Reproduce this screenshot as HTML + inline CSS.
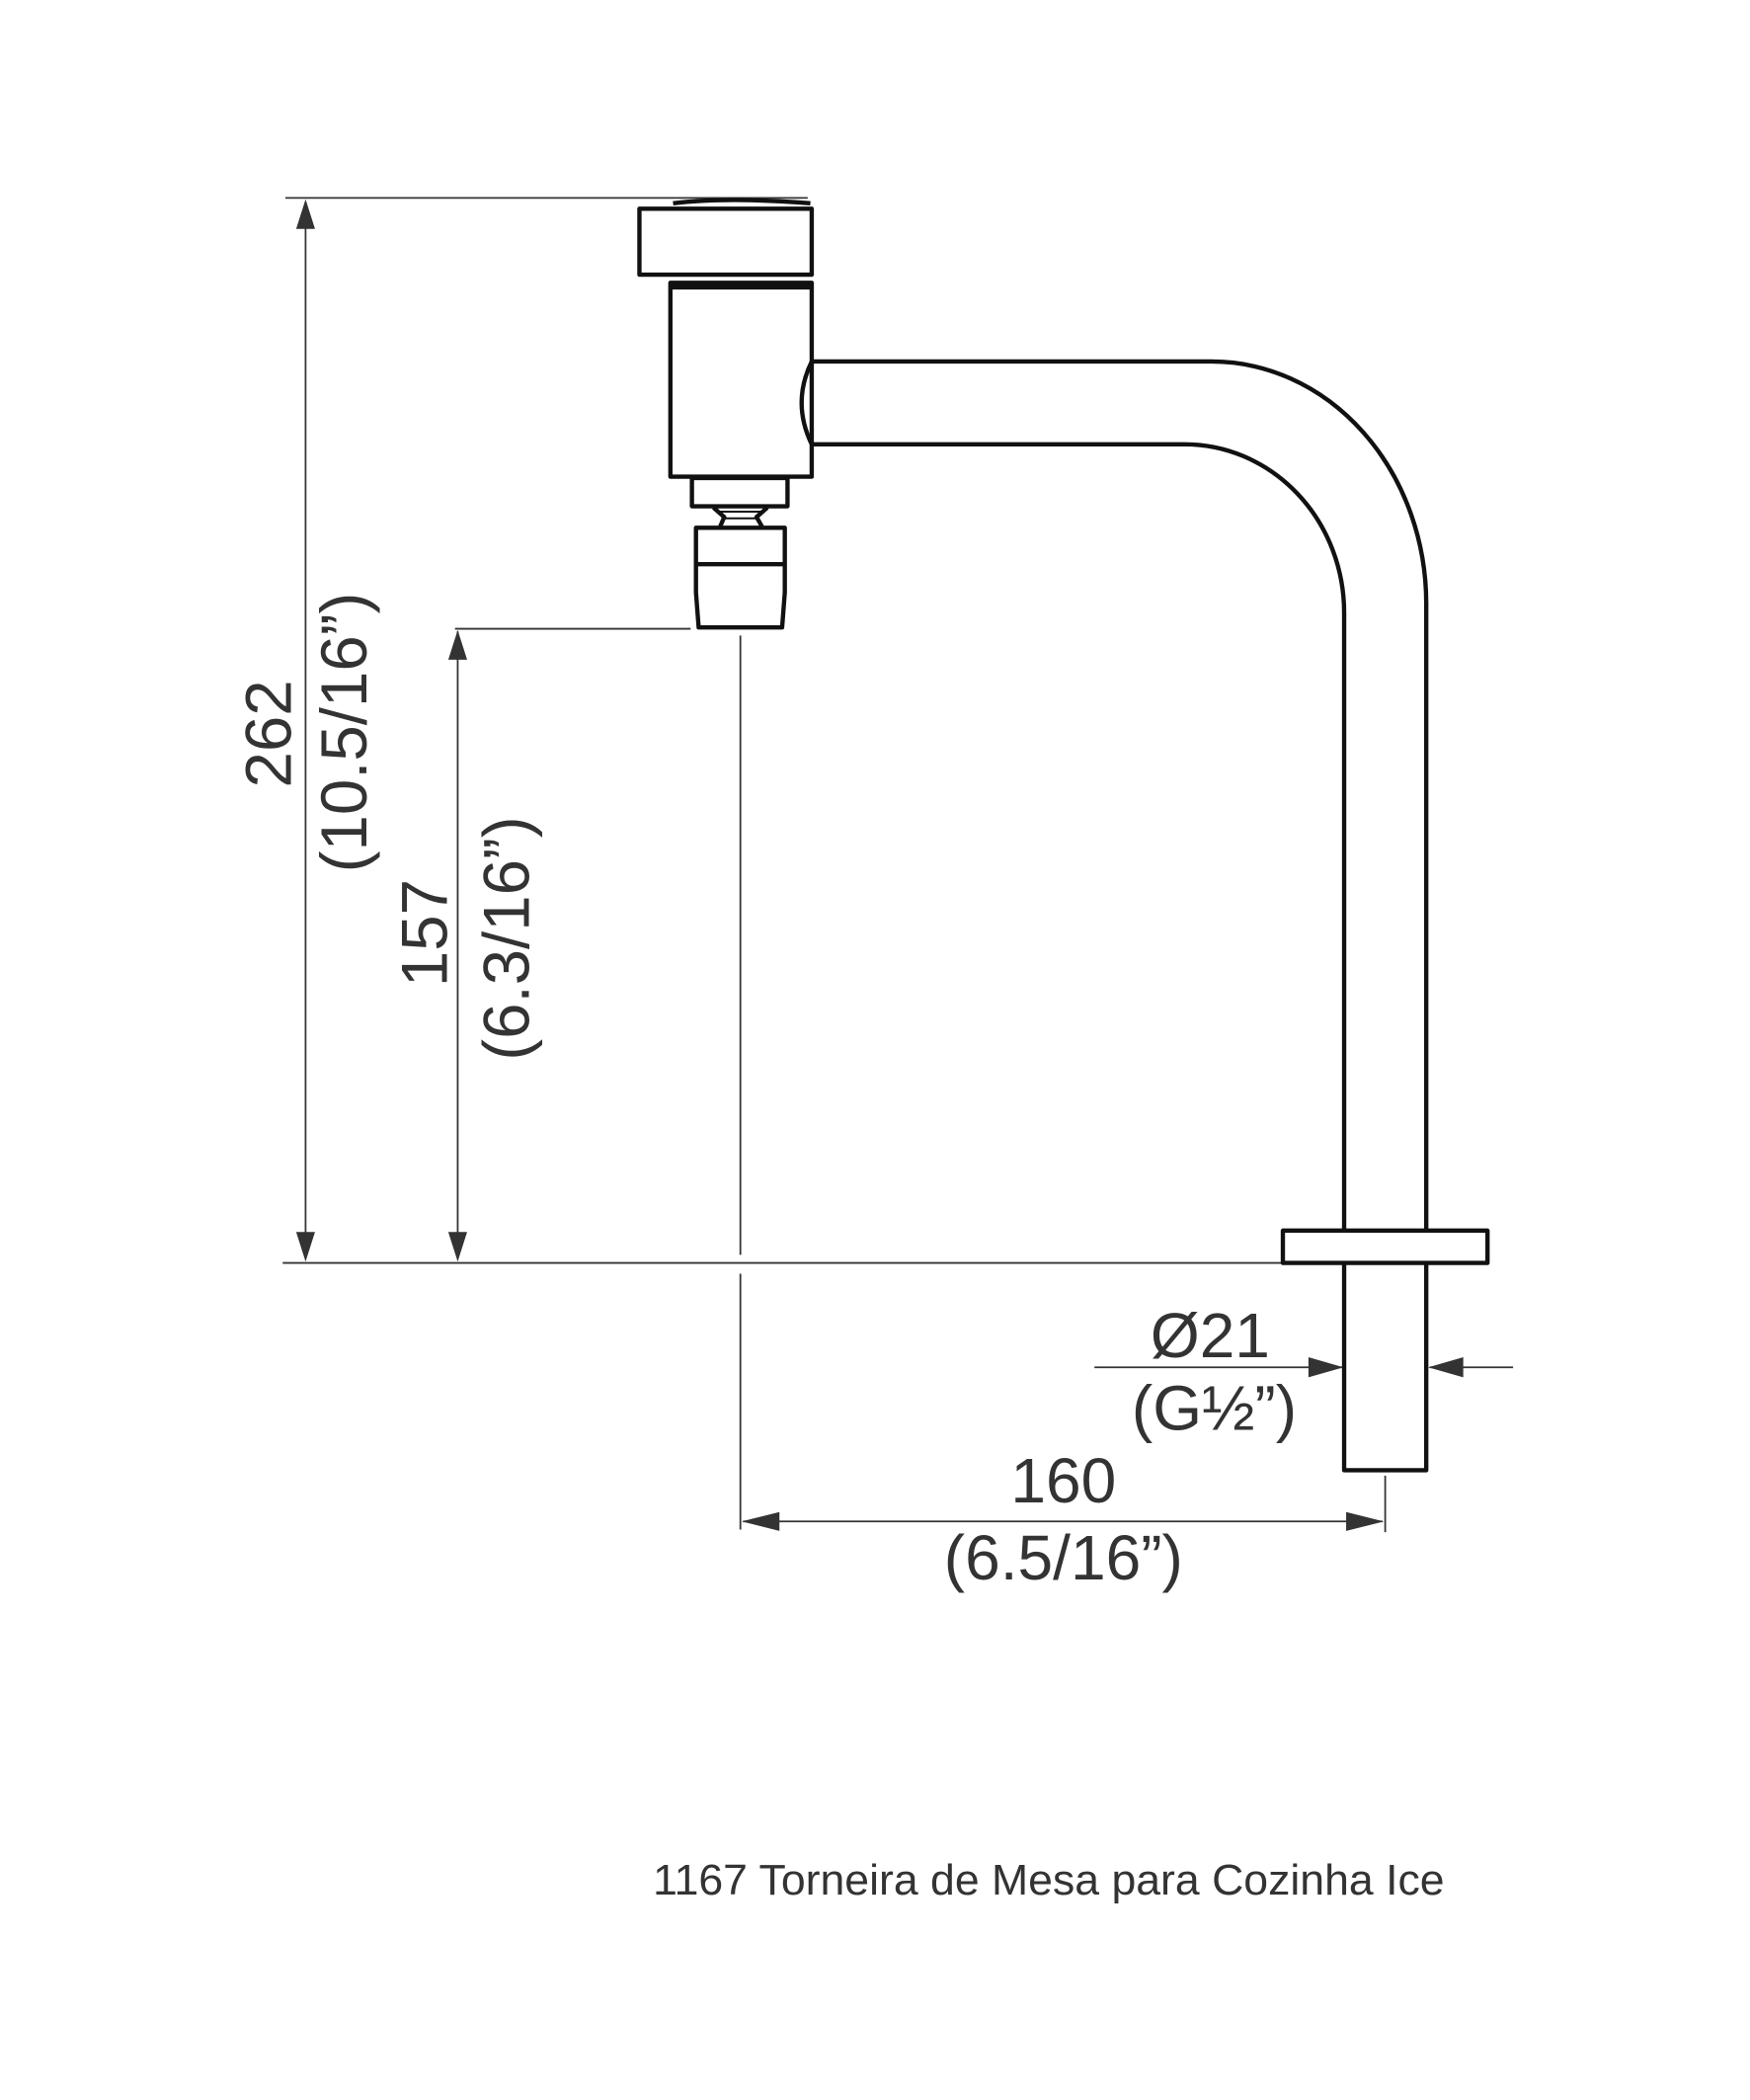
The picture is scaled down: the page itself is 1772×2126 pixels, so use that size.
<!DOCTYPE html>
<html><head><meta charset="utf-8"><style>
html,body{margin:0;padding:0;background:#fff;}
svg{display:block;}
text{font-family:"Liberation Sans",Arial,sans-serif;fill:#333;}
</style></head><body>
<svg width="1772" height="2126" viewBox="0 0 1300 1559.7" preserveAspectRatio="none" xmlns="http://www.w3.org/2000/svg">
<g stroke="#333" stroke-width="1.3" fill="none">
  <line x1="212" y1="147" x2="600" y2="147"/>
  <line x1="210" y1="938" x2="952" y2="938"/>
  <line x1="227" y1="150" x2="227" y2="935"/>
  <line x1="340" y1="469" x2="340" y2="935"/>
  <line x1="338" y1="467" x2="513" y2="467"/>
  <line x1="550" y1="472" x2="550" y2="932"/>
  <line x1="550" y1="946" x2="550" y2="1136"/>
  <line x1="552" y1="1130" x2="1027" y2="1130"/>
  <line x1="1029" y1="1096" x2="1029" y2="1138"/>
  <line x1="813" y1="1015.5" x2="998" y2="1015.5"/>
  <line x1="1062" y1="1015.5" x2="1124" y2="1015.5"/>
</g>
<g fill="#333">
  <polygon points="227,148 220,170 234,170"/>
  <polygon points="227,937 220,915 234,915"/>
  <polygon points="340,468 333,490 347,490"/>
  <polygon points="340,937 333,915 347,915"/>
  <polygon points="551,1130 579,1123 579,1137"/>
  <polygon points="1028,1130 1000,1123 1000,1137"/>
  <polygon points="998,1015.5 972,1008 972,1023"/>
  <polygon points="1061,1015.5 1087,1008 1087,1023"/>
</g>
<g stroke="#111" stroke-width="3.2" fill="none" stroke-linejoin="round">
  <rect x="475" y="155" width="128" height="49"/>
  <path d="M500 151 Q540 146 602 151"/>
  <rect x="498" y="210" width="105" height="144"/>
  <line x1="498" y1="213" x2="603" y2="213" stroke-width="4"/>
  <path d="M603 268.5 Q588 299 603 330"/>
  <path d="M603 268.5 H900 A159.5 180 0 0 1 1059.5 448 V913"/>
  <path d="M603 330 H880 A118.5 125 0 0 1 998.5 455 V913"/>
  <rect x="514" y="355" width="71" height="21"/>
  <path d="M530 377 L538 384 L535 391 M570 377 L562 384 L566 391"/>
  <line x1="533" y1="380" x2="567" y2="380" stroke-width="1.5"/>
  <line x1="536" y1="385" x2="564" y2="385" stroke-width="1.5"/>
  <path d="M517 392 H583 V440 L581 466 H519 L517 440 Z"/>
  <line x1="517" y1="419" x2="583" y2="419"/>
  <rect x="953" y="914" width="152" height="24"/>
  <path d="M998.5 938 V1092 H1059.5 V938"/>
</g>
<text x="899" y="1008" font-size="47" text-anchor="middle">Ø21</text>
<text x="902" y="1062" font-size="47" text-anchor="middle">(G½”)</text>
<text x="790" y="1116" font-size="47" text-anchor="middle">160</text>
<text x="790" y="1173" font-size="47" text-anchor="middle">(6.5/16”)</text>
<text transform="translate(216,545) rotate(-90)" font-size="48" text-anchor="middle">262</text>
<text transform="translate(272,544) rotate(-90)" font-size="48" text-anchor="middle">(10.5/16”)</text>
<text transform="translate(332,693) rotate(-90)" font-size="48" text-anchor="middle">157</text>
<text transform="translate(393,697) rotate(-90)" font-size="48" text-anchor="middle">(6.3/16”)</text>
<text x="485" y="1407" font-size="32" textLength="588" lengthAdjust="spacingAndGlyphs">1167 Torneira de Mesa para Cozinha Ice</text>
</svg>
</body></html>
